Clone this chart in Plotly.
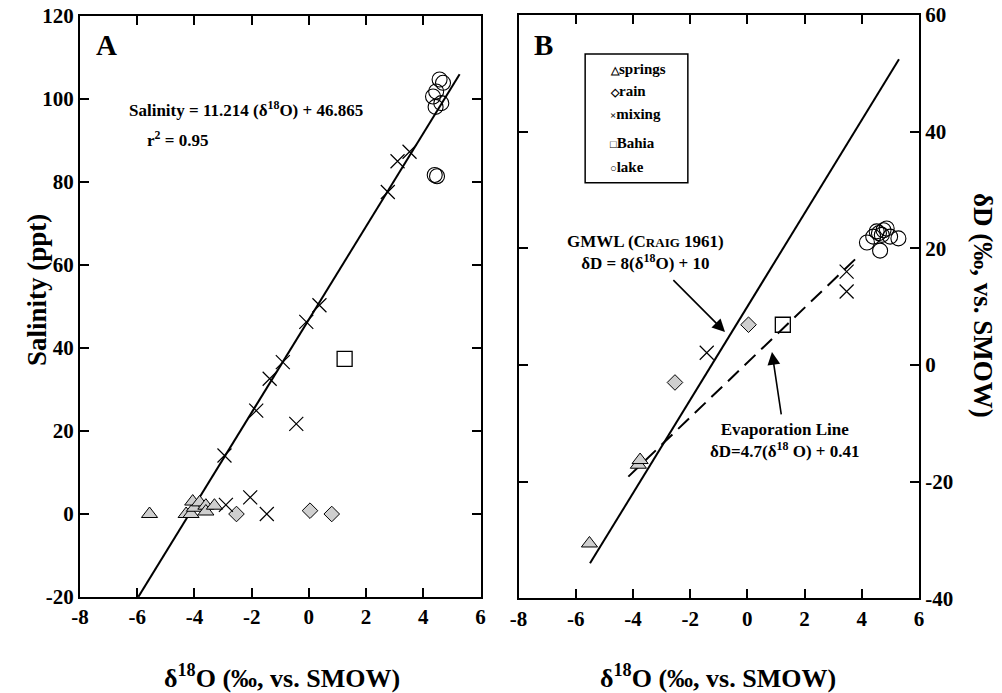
import plotly.graph_objects as go

# ---------------- Panel A data: delta18O vs salinity ----------------
springs_a_x = [-5.57, -4.29, -4.12, -4.0, -4.06, -3.82, -3.6, -3.6, -3.3]
springs_a_y = [0.0, 0.0, 0.0, 1.5, 3.0, 2.8, 2.0, 0.6, 2.0]
rain_a_x = [-2.53, 0.04, 0.8]
rain_a_y = [0.0, 0.8, 0.0]
mixing_a_x = [-2.9, -2.05, -1.47, -2.95, -1.84, -1.37, -0.91, -0.09, 0.37, -0.44, 2.76, 3.1, 3.52]
mixing_a_y = [2.2, 4.0, 0.0, 14.1, 24.9, 32.6, 36.6, 46.3, 50.3, 21.7, 77.6, 85.0, 87.3]
bahia_a_x = [1.25]
bahia_a_y = [37.4]
lake_a_x = [4.57, 4.69, 4.45, 4.34, 4.63, 4.43, 4.40, 4.48]
lake_a_y = [104.7, 103.9, 101.8, 100.6, 99.0, 98.1, 81.7, 81.4]

# regression: Salinity = 11.214 (d18O) + 46.865
sal_slope, sal_icept = 11.214, 46.865
sal_line_x = [-5.96, 5.27]

# ---------------- Panel B data: delta18O vs deltaD ----------------
springs_b_x = [-5.52, -3.81, -3.75]
springs_b_y = [-30.6, -17.1, -16.3]
rain_b_x = [-2.53, 0.04]
rain_b_y = [-3.0, 6.9]
mixing_b_x = [-1.42, 3.47, 3.47]
mixing_b_y = [2.1, 16.0, 12.6]
bahia_b_x = [1.24]
bahia_b_y = [6.9]
lake_b_x = [4.18, 4.64, 5.28, 4.99, 4.87, 4.52, 4.70, 4.40, 4.76, 4.60]
lake_b_y = [21.0, 19.6, 21.7, 22.0, 23.4, 22.9, 22.3, 22.0, 23.1, 22.6]

# GMWL: dD = 8 d18O + 10 ; evaporation: dD = 4.7 d18O + 0.41
gmwl_slope, gmwl_icept = 8.0, 10.0
gmwl_x = [-5.5, 5.3]
evap_slope, evap_icept = 4.7, 0.41
evap_x = [-4.16, 3.95]

x_ticks = [-8, -6, -4, -2, 0, 2, 4, 6]
x_ticktext = ["-8", "-6", "-4", "-2", "0", "2", "4", "6"]
ya_ticks = [-20, 0, 20, 40, 60, 80, 100, 120]
ya_ticktext = ["-20", "0", "20", "40", "60", "80", "100", "120"]
yb_ticks = [-40, -20, 0, 20, 40, 60]
yb_ticktext = ["-40", "-20", "0", "20", "40", "60"]

legend_symbols = ["\u25b3", "\u25c7", "\u00d7", "\u25a1", "\u25cb"]
legend_names = ["springs", "rain", "mixing", "Bahia", "lake"]

SERIF = "Liberation Serif"
GRAY = "#cfcfcf"

fig = go.Figure()

def add_points(x, y, name, xa, ya, symbol, size, fill, lw):
    fig.add_trace(go.Scatter(
        x=x, y=y, mode="markers", name=name, xaxis=xa, yaxis=ya, showlegend=False,
        marker=dict(symbol=symbol, size=size, color=fill,
                    line=dict(color="black", width=lw))))

def add_line(xs, slope, icept, xa, ya, dash="solid"):
    fig.add_trace(go.Scatter(
        x=xs, y=[slope * v + icept for v in xs], mode="lines", xaxis=xa, yaxis=ya,
        showlegend=False, line=dict(color="black", width=2, dash=dash)))

# Panel A
add_line(sal_line_x, sal_slope, sal_icept, "x", "y")
add_points(springs_a_x, springs_a_y, "springs", "x", "y", "triangle-up", 14, GRAY, 1)
add_points(rain_a_x, rain_a_y, "rain", "x", "y", "diamond", 12, GRAY, 1)
add_points(mixing_a_x, mixing_a_y, "mixing", "x", "y", "x-thin", 14, "black", 1.2)
add_points(bahia_a_x, bahia_a_y, "Bahia", "x", "y", "square-open", 15, "black", 1.3)
add_points(lake_a_x, lake_a_y, "lake", "x", "y", "circle-open", 15, "black", 1.1)

# Panel B
add_line(gmwl_x, gmwl_slope, gmwl_icept, "x2", "y2")
add_line(evap_x, evap_slope, evap_icept, "x2", "y2", dash="15px,8px")
add_points(springs_b_x, springs_b_y, "springs", "x2", "y2", "triangle-up", 14, GRAY, 1)
add_points(rain_b_x, rain_b_y, "rain", "x2", "y2", "diamond", 12, GRAY, 1)
add_points(mixing_b_x, mixing_b_y, "mixing", "x2", "y2", "x-thin", 14, "black", 1.2)
add_points(bahia_b_x, bahia_b_y, "Bahia", "x2", "y2", "square-open", 15, "black", 1.3)
add_points(lake_b_x, lake_b_y, "lake", "x2", "y2", "circle-open", 15, "black", 1.1)

tickfont = dict(family=SERIF, size=21, color="black", weight="bold")
common = dict(showline=True, linecolor="black", linewidth=2, mirror="allticks",
              ticks="inside", ticklen=9, tickwidth=2, tickcolor="black",
              showgrid=False, zeroline=False, tickfont=tickfont, automargin=False)

fig.update_layout(
    template="none",
    width=1002, height=693,
    margin=dict(l=0, r=0, t=0, b=0, autoexpand=False),
    paper_bgcolor="white", plot_bgcolor="white",
    xaxis=dict(domain=[80 / 1002, 480.5 / 1002], range=[-8, 6], tickvals=x_ticks,
               ticktext=x_ticktext, anchor="y", **common),
    yaxis=dict(domain=[1 - 597 / 693, 1 - 16 / 693], range=[-20, 120], tickvals=ya_ticks,
               ticktext=ya_ticktext, anchor="x", **common),
    xaxis2=dict(domain=[518.5 / 1002, 919 / 1002], range=[-8, 6], tickvals=x_ticks,
                ticktext=x_ticktext, anchor="y2", **common),
    yaxis2=dict(domain=[1 - 598.3 / 693, 1 - 15 / 693], range=[-40, 60], tickvals=yb_ticks,
                ticktext=yb_ticktext, anchor="x2", side="right", **common),
)

bold = lambda s: f"<b>{s}</b>"
ann = []
# panel labels
ann.append(dict(text=bold("A"), x=-7.08, y=112.9, xref="x", yref="y", showarrow=False,
                xanchor="center", yanchor="middle",
                font=dict(family=SERIF, size=29, color="black")))
ann.append(dict(text=bold("B"), x=-7.11, y=54.9, xref="x2", yref="y2", showarrow=False,
                xanchor="center", yanchor="middle",
                font=dict(family=SERIF, size=29, color="black")))
# equation panel A
ann.append(dict(text=bold("Salinity = 11.214 (\u03b4<sup>18</sup>O) + 46.865"), x=-2.19, y=97.5,
                xref="x", yref="y", showarrow=False, xanchor="center", yanchor="middle",
                font=dict(family=SERIF, size=17, color="black")))
ann.append(dict(text=bold("r<sup>2</sup> = 0.95"), x=-5.74, y=90.3, xref="x", yref="y",
                xanchor="left", yanchor="middle", showarrow=False,
                font=dict(family=SERIF, size=17, color="black")))
# GMWL text with arrow to the line
ann.append(dict(text=bold("GMWL (C<span style='font-size:13px'>RAIG</span> 1961)<br>\u03b4D = 8(\u03b4<sup>18</sup>O) + 10"),
                x=-0.78, y=5.66, ax=-3.55, ay=19.3, xref="x2", yref="y2",
                axref="x2", ayref="y2", showarrow=True, arrowhead=2, arrowsize=1.6,
                arrowwidth=1.6, arrowcolor="black", startstandoff=8,
                font=dict(family=SERIF, size=17, color="black")))
# Evaporation text with arrow to the line
ann.append(dict(text=bold("Evaporation Line<br>\u03b4D=4.7(\u03b4<sup>18</sup> O) + 0.41"),
                x=0.86, y=2.23, ax=1.32, ay=-12.9, xref="x2", yref="y2",
                axref="x2", ayref="y2", showarrow=True, arrowhead=2, arrowsize=1.6,
                arrowwidth=1.6, arrowcolor="black", startstandoff=4,
                font=dict(family=SERIF, size=17, color="black")))
# legend (panel B)
leg_y = [50.7, 46.9, 43.0, 38.1, 34.0]
for sym, name, yy in zip(legend_symbols, legend_names, leg_y):
    ann.append(dict(text=bold(f"<span style='font-size:11px'>{sym}</span>{name}"),
                    x=-4.86, y=yy, xref="x2", yref="y2", xanchor="left", yanchor="middle",
                    showarrow=False, font=dict(family=SERIF, size=15, color="black")))
# axis titles
ann.append(dict(text=bold("Salinity (ppt)"), x=37 / 1002, y=1 - 290 / 693, xref="paper",
                yref="paper", textangle=-90, showarrow=False,
                xanchor="center", yanchor="middle",
                font=dict(family=SERIF, size=27, color="black")))
ann.append(dict(text=bold("\u03b4D (\u2030, vs. SMOW)"), x=983 / 1002, y=1 - 305 / 693,
                xref="paper", yref="paper", textangle=90, showarrow=False,
                xanchor="center", yanchor="middle",
                font=dict(family=SERIF, size=27, color="black")))
for cx in (282, 718):
    ann.append(dict(text=bold("\u03b4<sup>18</sup>O (\u2030, vs. SMOW)"), x=cx / 1002,
                    y=1 - 676 / 693, xref="paper", yref="paper", showarrow=False,
                    xanchor="center", yanchor="middle",
                    font=dict(family=SERIF, size=26, color="black")))
fig.update_layout(annotations=ann)

fig.add_shape(type="rect", xref="x2", yref="y2", x0=-5.67, x1=-2.08, y0=31.25, y1=53.3,
              line=dict(color="black", width=1.5), fillcolor="white", layer="below")

fig.write_html("out.html", config={"displayModeBar": False},
               post_script="document.body.style.margin='0px';")
